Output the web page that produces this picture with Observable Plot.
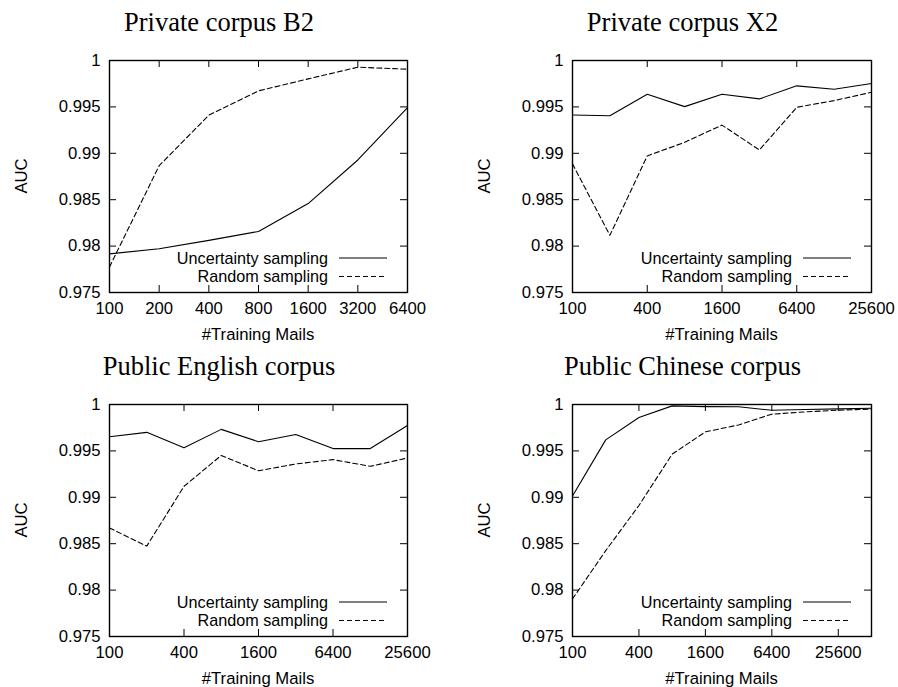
<!DOCTYPE html>
<html><head><meta charset="utf-8">
<script src="https://cdn.jsdelivr.net/npm/d3@7"></script>
<script src="https://cdn.jsdelivr.net/npm/@observablehq/plot@0.6"></script>
<style>
body{margin:0;background:#fff;}
#root{position:relative;width:898px;height:687px;overflow:hidden;background:#fff;}
#root svg{position:absolute;}
</style></head><body><div id="root"></div>
<script>
// ---- data ----
const aucTicks = [0.975, 0.98, 0.985, 0.99, 0.995, 1];
const seriesNames = ["Uncertainty sampling", "Random sampling"];
const xLabel = "#Training Mails";
const yLabel = "AUC";

const b2Title = "Private corpus B2";
const b2Mails = [100, 200, 400, 800, 1600, 3200, 6400];
const b2Ticks = [100, 200, 400, 800, 1600, 3200, 6400];
const b2Uncertainty = [0.97916, 0.97972, 0.98062, 0.98158, 0.98458, 0.98928, 0.99493];
const b2Random = [0.97775, 0.98866, 0.99411, 0.99673, 0.99802, 0.99928, 0.99906];

const x2Title = "Private corpus X2";
const x2Mails = [100, 200, 400, 800, 1600, 3200, 6400, 12800, 25600];
const x2Ticks = [100, 400, 1600, 6400, 25600];
const x2Uncertainty = [0.99413, 0.99405, 0.99637, 0.99503, 0.99637, 0.99586, 0.99727, 0.99691, 0.99752];
const x2Random = [0.98886, 0.98116, 0.98972, 0.99118, 0.99304, 0.99036, 0.99496, 0.99568, 0.99658];

const enTitle = "Public English corpus";
const enMails = [100, 200, 400, 800, 1600, 3200, 6400, 12800, 25600];
const enTicks = [100, 400, 1600, 6400, 25600];
const enUncertainty = [0.99653, 0.99700, 0.99533, 0.99732, 0.99599, 0.99676, 0.99525, 0.99525, 0.99773];
const enRandom = [0.98670, 0.98474, 0.99118, 0.99451, 0.99286, 0.99359, 0.99406, 0.99334, 0.99424];

const cnTitle = "Public Chinese corpus";
const cnMails = [100, 200, 400, 800, 1600, 3200, 6400, 12800, 25600, 51200];
const cnTicks = [100, 400, 1600, 6400, 25600];
const cnUncertainty = [0.99015, 0.99619, 0.99860, 0.99985, 0.99977, 0.99975, 0.99938, 0.99946, 0.99953, 0.99960];
const cnRandom = [0.97905, 0.98425, 0.98912, 0.99465, 0.99705, 0.99780, 0.99896, 0.99920, 0.99939, 0.99950];

// ---- layout (positions / sizes only) ----
const panels = [
  {title: b2Title, mails: b2Mails, ticks: b2Ticks, unc: b2Uncertainty, rnd: b2Random, xmax: 6400,
   left: 0, top: 0, width: 449, height: 340, ml: 109, mr: 42, mt: 60, mb: 48},
  {title: x2Title, mails: x2Mails, ticks: x2Ticks, unc: x2Uncertainty, rnd: x2Random, xmax: 25600,
   left: 449, top: 0, width: 449, height: 340, ml: 123, mr: 27, mt: 60, mb: 48},
  {title: enTitle, mails: enMails, ticks: enTicks, unc: enUncertainty, rnd: enRandom, xmax: 25600,
   left: 0, top: 340, width: 449, height: 347, ml: 109, mr: 42, mt: 64, mb: 51},
  {title: cnTitle, mails: cnMails, ticks: cnTicks, unc: cnUncertainty, rnd: cnRandom, xmax: 51200,
   left: 449, top: 340, width: 449, height: 347, ml: 123, mr: 27, mt: 64, mb: 51}
];

const SANS = "'Liberation Sans', Arial, Helvetica, sans-serif";
const SERIF = "'Liberation Serif', 'Times New Roman', serif";
const FS = 16.7;
const LEGEND_FS = 16.2;
const DASH = "5,3";

function decorations(p) {
  return (index, scales, values, dim) => {
    const g = d3.create("svg:g").attr("fill", "black");
    const L = dim.marginLeft, R = dim.width - dim.marginRight;
    const T = dim.marginTop, B = dim.height - dim.marginBottom;
    const cx = (L + R) / 2, cy = (T + B) / 2;
    g.append("text").attr("x", cx - 39).attr("y", T - 29)
      .attr("text-anchor", "middle").attr("font-family", SERIF).attr("font-size", 26.5)
      .text(p.title);
    g.append("text").attr("x", cx).attr("y", B + 48)
      .attr("text-anchor", "middle").attr("font-family", SANS).attr("font-size", FS)
      .text(xLabel);
    g.append("text").attr("transform", `translate(${L - 88},${cy}) rotate(-90)`)
      .attr("dy", "0.36em").attr("text-anchor", "middle").attr("font-family", SANS).attr("font-size", FS)
      .text(yLabel);
    seriesNames.forEach((name, i) => {
      const yc = B - 34 + i * 18.5;
      g.append("text").attr("x", R - 79).attr("y", yc).attr("dy", "0.36em")
        .attr("text-anchor", "end").attr("font-family", SANS).attr("font-size", LEGEND_FS).text(name);
      g.append("line").attr("x1", R - 68).attr("x2", R - 20).attr("y1", yc).attr("y2", yc)
        .attr("stroke", "black").attr("stroke-width", 1)
        .attr("stroke-dasharray", i === 1 ? DASH : null);
    });
    return g.node();
  };
}

const root = document.getElementById("root");
for (const p of panels) {
  const W = p.width - p.ml - p.mr;
  const H = p.height - p.mt - p.mb;
  const uncRows = p.mails.map((m, i) => ({mails: m, auc: p.unc[i], series: seriesNames[0]}));
  const rndRows = p.mails.map((m, i) => ({mails: m, auc: p.rnd[i], series: seriesNames[1]}));
  const chart = Plot.plot({
    width: p.width, height: p.height,
    marginLeft: p.ml, marginRight: p.mr, marginTop: p.mt, marginBottom: p.mb,
    style: {fontFamily: SANS, fontSize: FS + "px", color: "black", background: "transparent", overflow: "visible"},
    x: {type: "log", base: 2, domain: [100, p.xmax]},
    y: {domain: [0.975, 1]},
    marks: [
      Plot.line(uncRows, {x: "mails", y: "auc", stroke: "black", strokeWidth: 1.1}),
      Plot.line(rndRows, {x: "mails", y: "auc", stroke: "black", strokeWidth: 1.1, strokeDasharray: DASH}),
      Plot.tickX(p.ticks, {x: d => d, stroke: "black", insetTop: H - 7}),
      Plot.tickX(p.ticks, {x: d => d, stroke: "black", insetBottom: H - 7}),
      Plot.tickY(aucTicks, {y: d => d, stroke: "black", insetRight: W - 7}),
      Plot.tickY(aucTicks, {y: d => d, stroke: "black", insetLeft: W - 7}),
      Plot.axisX({ticks: p.ticks, tickSize: 0, tickPadding: 10, label: null, tickFormat: d => String(d)}),
      Plot.axisY({ticks: aucTicks, tickSize: 0, tickPadding: 9, label: null, tickFormat: d => String(+d.toFixed(3))}),
      Plot.frame({stroke: "black", strokeWidth: 1.4}),
      decorations(p)
    ]
  });
  chart.style.left = p.left + "px";
  chart.style.top = p.top + "px";
  root.appendChild(chart);
}
</script></body></html>
